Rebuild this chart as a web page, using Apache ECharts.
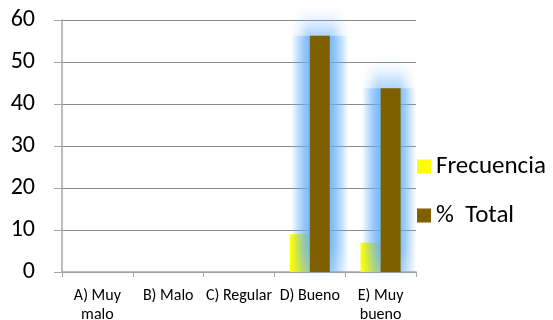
<!DOCTYPE html>
<html>
<head>
<meta charset="utf-8">
<script src="https://cdn.jsdelivr.net/npm/echarts@6/dist/echarts.min.js"></script>
<style>
  html, body { margin: 0; padding: 0; background: #fff; }
  #chart { width: 553px; height: 320px; }
</style>
</head>
<body>
<div id="chart"></div>
<script>
var categorias = ['A) Muy\nmalo', 'B) Malo', 'C) Regular', 'D) Bueno', 'E) Muy\nbueno'];
var frecuencia = [0, 0, 0, 9, 7];
var porcentaje = [0, 0, 0, 56.25, 43.75];
var nombres = ['Frecuencia', '%  Total'];

var fuente = 'Calibri, Carlito, "Liberation Sans", "DejaVu Sans", sans-serif';

var option = {
  animation: false,
  textStyle: { fontFamily: fuente },
  grid: { left: 62, right: 137, top: 20, bottom: 48, outerBoundsMode: 'none' },
  legend: {
    orient: 'vertical',
    left: 412,
    top: 149,
    itemWidth: 14,
    itemHeight: 14,
    itemGap: 24,
    icon: 'rect',
    textStyle: { fontSize: 25, color: '#000', fontFamily: fuente },
    data: nombres
  },
  xAxis: [
    {
      type: 'category',
      data: categorias,
      axisLine: { lineStyle: { color: '#a6a6a6', width: 1.5 } },
      axisTick: { show: true, length: 5, lineStyle: { color: '#a6a6a6' } },
      axisLabel: { color: '#000', fontSize: 16, margin: 14, lineHeight: 19, interval: 0 }
    },
    {
      // eje oculto solo para el resplandor detras de las barras de %
      type: 'category',
      data: categorias,
      position: 'bottom',
      show: false
    }
  ],
  yAxis: {
    type: 'value',
    min: 0,
    max: 60,
    interval: 10,
    axisLine: { show: true, lineStyle: { color: '#a6a6a6', width: 1.5 } },
    axisTick: { show: true, length: 8, lineStyle: { color: '#a6a6a6' } },
    axisLabel: { color: '#000', fontSize: 24, margin: 27 },
    splitLine: { lineStyle: { color: '#8c8c8c', width: 1 } }
  },
  series: [
    {
      name: nombres[0],
      type: 'bar',
      z: 1,
      data: frecuencia,
      barWidth: 20,
      barGap: '0%',
      itemStyle: { color: '#ffff00' }
    },
    {
      name: nombres[1],
      type: 'bar',
      z: 3,
      data: porcentaje,
      barWidth: 20,
      barGap: '0%',
      itemStyle: { color: '#7f6000' }
    },
    {
      name: 'hueco',
      type: 'bar',
      xAxisIndex: 1,
      silent: true,
      data: frecuencia,
      barWidth: 20,
      barGap: '0%',
      itemStyle: { color: 'rgba(0,0,0,0)' }
    },
    {
      name: 'brillo',
      type: 'bar',
      xAxisIndex: 1,
      silent: true,
      z: 2,
      data: porcentaje,
      barWidth: 58,
      barGap: '0%',
      itemStyle: {
        color: {
          type: 'linear', x: 0, y: 0, x2: 1, y2: 0,
          colorStops: [
            { offset: 0, color: 'rgba(100,175,250,0)' },
            { offset: 0.3, color: 'rgba(100,175,250,0.6)' },
            { offset: 0.7, color: 'rgba(100,175,250,0.6)' },
            { offset: 1, color: 'rgba(100,175,250,0)' }
          ]
        },
        shadowBlur: 20,
        shadowOffsetY: -10,
        shadowColor: 'rgba(100,175,250,1)'
      }
    }
  ]
};

var myChart = echarts.init(document.getElementById('chart'));
myChart.setOption(option);
</script>
</body>
</html>
